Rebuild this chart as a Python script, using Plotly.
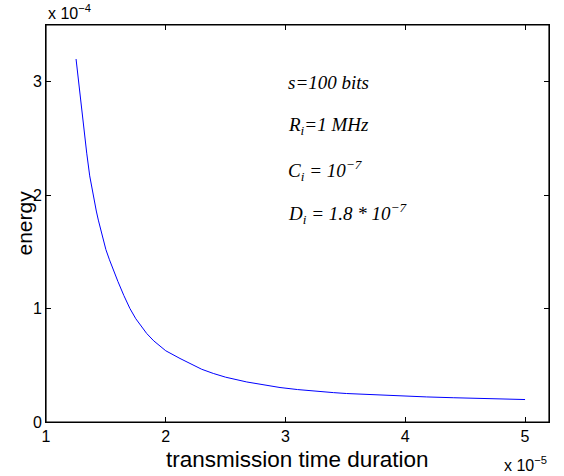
import plotly.graph_objects as go

# transmission time duration (x 1e-5) and energy (x 1e-4)
time_vals = [1.251, 1.275, 1.298, 1.320, 1.340, 1.365, 1.395, 1.420, 1.437, 1.460,
             1.478, 1.500, 1.530, 1.562, 1.600, 1.650, 1.701, 1.750, 1.800, 1.841,
             1.900, 2.000, 2.119, 2.200, 2.300, 2.397, 2.500, 2.676, 2.800, 2.954,
             3.100, 3.232, 3.400, 3.510, 3.789, 4.000, 4.179, 4.400, 4.600, 4.800,
             5.000]
energy_vals = [3.20, 2.97, 2.77, 2.55, 2.37, 2.17, 1.99, 1.86, 1.78, 1.68,
               1.605, 1.52, 1.43, 1.34, 1.24, 1.115, 1.00, 0.91, 0.835, 0.78,
               0.715, 0.628, 0.56, 0.515, 0.465, 0.428, 0.395, 0.353, 0.330, 0.304,
               0.286, 0.272, 0.259, 0.251, 0.236, 0.228, 0.221, 0.214, 0.208, 0.203,
               0.198]

x_ticks = [1, 2, 3, 4, 5]
y_ticks = [0, 1, 2, 3]

params = [
    "<i>s=100 bits</i>",
    "<i>R<sub>i</sub>=1 MHz</i>",
    "<i>C<sub>i</sub> = 10<sup>\u22127</sup></i>",
    "<i>D<sub>i</sub> = 1.8 * 10<sup>\u22127</sup></i>",
]
param_y = [2.99, 2.61, 2.22, 1.84]

fig = go.Figure()
fig.add_trace(go.Scatter(x=time_vals, y=energy_vals, mode="lines",
                         line=dict(color="#0000ff", width=1),
                         showlegend=False, hoverinfo="skip"))

axis_common = dict(showline=True, linecolor="#000000", linewidth=1, mirror="ticks",
                   ticks="inside", ticklen=5, tickcolor="#000000", showgrid=False,
                   zeroline=False, automargin=False,
                   tickfont=dict(family="Liberation Sans", size=16, color="black"))

fig.update_xaxes(range=[1, 5.2], tickvals=x_ticks, ticktext=[str(v) for v in x_ticks],
                 **axis_common)
fig.update_yaxes(range=[0, 3.5], tickvals=y_ticks, ticktext=[str(v) for v in y_ticks],
                 ticklabelstandoff=0, **axis_common)

annotations = [dict(x=3.0, y=yv, xref="x", yref="y", text=t,
                    showarrow=False, xanchor="left", yanchor="middle",
                    font=dict(family="Liberation Serif", size=19, color="black"))
               for t, yv in zip(params, param_y)]
annotations.append(dict(x=0, y=1.0, xref="paper", yref="paper", yshift=1,
                        text="x 10<sup>\u22124</sup>", showarrow=False,
                        xanchor="left", yanchor="bottom",
                        font=dict(family="Liberation Sans", size=16, color="black")))
annotations.append(dict(x=1.0, y=0, xref="paper", yref="paper", yshift=-42,
                        text="x 10<sup>\u22125</sup>", showarrow=False,
                        xanchor="right", yanchor="middle",
                        font=dict(family="Liberation Sans", size=16, color="black")))
annotations.append(dict(x=0.5, y=0, xref="paper", yref="paper", yshift=-37,
                        text="transmission time duration", showarrow=False,
                        xanchor="center", yanchor="middle",
                        font=dict(family="Liberation Sans", size=22.5, color="black")))
annotations.append(dict(x=0, y=0.5, xref="paper", yref="paper", xshift=-22,
                        text="energy", showarrow=False, textangle=-90,
                        xanchor="center", yanchor="middle",
                        font=dict(family="Liberation Sans", size=21, color="black")))

fig.update_layout(width=564, height=476, margin=dict(l=46, r=15, t=25, b=54),
                  paper_bgcolor="white", plot_bgcolor="white",
                  annotations=annotations,
                  shapes=[dict(type="rect", xref="paper", yref="paper", x0=0, x1=1,
                               y0=0, y1=1, line=dict(color="#000000", width=1.2),
                               layer="above")])

fig.write_html("out.html", config={"displayModeBar": False},
               post_script="document.body.style.margin='0px';"
                           "document.body.style.overflow='hidden';")
